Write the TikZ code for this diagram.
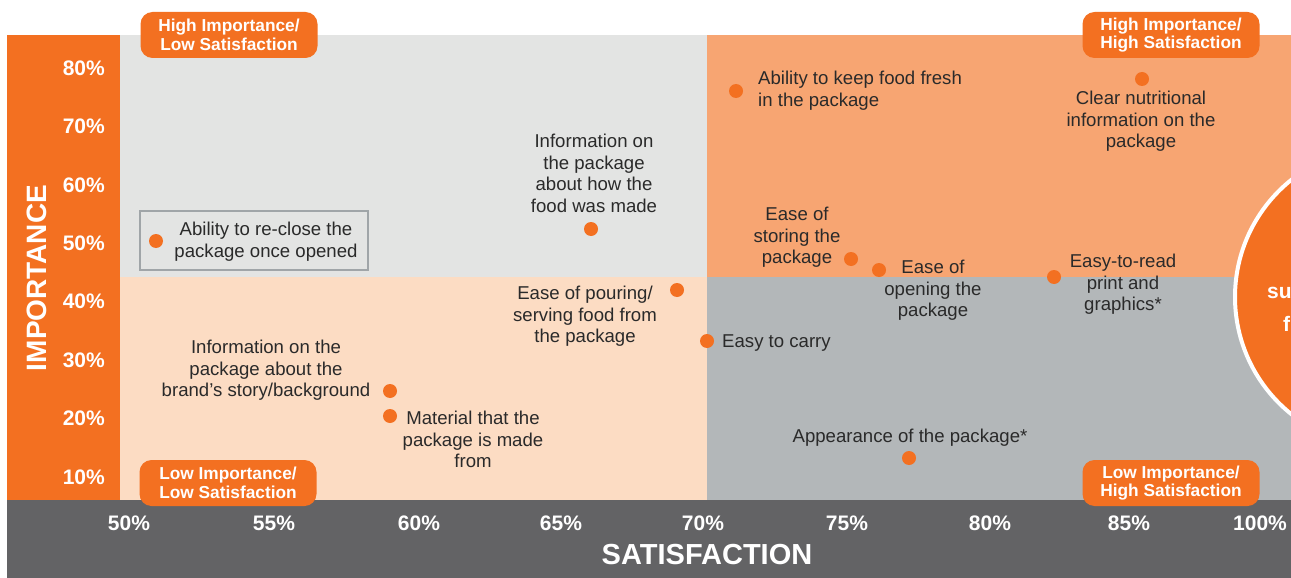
\documentclass[tikz,border=0pt]{standalone}
\usepackage{fontspec}
\setmainfont{Liberation Sans}
\definecolor{brandorange}{HTML}{F37021}
\definecolor{hilightorange}{HTML}{F7A572}
\definecolor{peach}{HTML}{FCDCC3}
\definecolor{lightgrey}{HTML}{E3E4E3}
\definecolor{midgrey}{HTML}{B3B7B9}
\definecolor{darkgrey}{HTML}{636365}
\definecolor{labelgrey}{HTML}{2A2A2A}
\definecolor{boxgrey}{HTML}{A0A5A8}

\begin{document}
\begin{tikzpicture}[x=1pt, y=-1pt,
  datadot/.style={circle, fill=brandorange, inner sep=0pt, minimum size=14pt},
  lbl/.style={text=labelgrey, align=center, inner sep=0pt, font=\fontsize{18.6}{21.5}\selectfont},
  quadtag/.style={fill=brandorange, rounded corners=12pt, text=white, align=center, inner sep=0pt,
    minimum width=177pt, minimum height=46pt, font=\bfseries\fontsize{17.3}{18.5}\selectfont},
  ticklabel/.style={text=white, inner sep=0pt, font=\bfseries\fontsize{21}{21}\selectfont}]
  \clip (0,0) rectangle (1291,578);
  % quadrants and bands
  \fill[lightgrey] (120,35) rectangle (707,277);
  \fill[hilightorange] (707,35) rectangle (1291,277);
  \fill[peach] (120,277) rectangle (707,500);
  \fill[midgrey] (707,277) rectangle (1291,500);
  \fill[brandorange] (7,35) rectangle (120,500);
  \fill[darkgrey] (7,500) rectangle (1291,578);

  % summary circle on the right edge
  \node[circle, fill=brandorange, draw=white, line width=4pt, minimum size=300pt] (summary) at (1385,297) {};
  \node[ticklabel, anchor=west] (summaryA) at (1267,293) {su};
  \node[ticklabel, anchor=west] (summaryB) at (1283,324) {f};

  % axes
  \node[ticklabel, anchor=east] (i80) at (105,68) {80\%};
  \node[ticklabel, anchor=east] (i70) at (105,126) {70\%};
  \node[ticklabel, anchor=east] (i60) at (105,185) {60\%};
  \node[ticklabel, anchor=east] (i50) at (105,243) {50\%};
  \node[ticklabel, anchor=east] (i40) at (105,301) {40\%};
  \node[ticklabel, anchor=east] (i30) at (105,360) {30\%};
  \node[ticklabel, anchor=east] (i20) at (105,418) {20\%};
  \node[ticklabel, anchor=east] (i10) at (105,477) {10\%};
  \node[ticklabel, rotate=90, font=\bfseries\fontsize{28}{28}\selectfont] (importance) at (37,278) {IMPORTANCE};
  \node[ticklabel] (s50) at (129,523) {50\%};
  \node[ticklabel] (s55) at (274,523) {55\%};
  \node[ticklabel] (s60) at (419,523) {60\%};
  \node[ticklabel] (s65) at (561,523) {65\%};
  \node[ticklabel] (s70) at (703,523) {70\%};
  \node[ticklabel] (s75) at (847,523) {75\%};
  \node[ticklabel] (s80) at (990,523) {80\%};
  \node[ticklabel] (s85) at (1129,523) {85\%};
  \node[ticklabel] (s100) at (1260,523) {100\%};
  \node[ticklabel, font=\bfseries\fontsize{29}{29}\selectfont] (satisfaction) at (707,555) {SATISFACTION};

  % quadrant tags
  \node[quadtag] (hilo) at (229,35) {High Importance/\\Low Satisfaction};
  \node[quadtag] (hihi) at (1171,35) {High Importance/\\High Satisfaction};
  \node[quadtag] (lolo) at (228,483) {Low Importance/\\Low Satisfaction};
  \node[quadtag] (lohi) at (1171,483) {Low Importance/\\High Satisfaction};

  % data points
  \node[draw=boxgrey, line width=1.5pt, minimum width=228pt, minimum height=59pt, inner sep=0pt] (recloseBox) at (254,240.5) {};
  \node[datadot] (reclose) at (156,241) {};
  \node[lbl] (recloseText) at (266,241.5) {Ability to re-close the\\package once opened};
  \node[datadot] (fresh) at (736,91) {};
  \node[lbl, anchor=west, align=left] (freshText) at (758,90.5) {Ability to keep food fresh\\in the package};
  \node[datadot] (nutrition) at (1142,79) {};
  \node[lbl] (nutritionText) at (1141,121.5) {Clear nutritional\\information on the\\package};
  \node[datadot] (made) at (591,229) {};
  \node[lbl] (madeText) at (594,173.5) {Information on\\the package\\about how the\\food was made};
  \node[datadot] (storing) at (851,259) {};
  \node[lbl] (storingText) at (797,237.5) {Ease of\\storing the\\package};
  \node[datadot] (opening) at (879,270) {};
  \node[lbl] (openingText) at (933,290.5) {Ease of\\opening the\\package};
  \node[datadot] (easyread) at (1054,277) {};
  \node[lbl] (easyreadText) at (1123,284.5) {Easy-to-read\\print and\\graphics*};
  \node[datadot] (pouring) at (677,290) {};
  \node[lbl] (pouringText) at (585,316.5) {Ease of pouring/\\serving food from\\the package};
  \node[datadot] (carry) at (707,341) {};
  \node[lbl, anchor=west] (carryText) at (722,343) {Easy to carry};
  \node[datadot] (brand) at (390,391) {};
  \node[lbl] (brandText) at (266,370.5) {Information on the\\package about the\\brand’s story/background};
  \node[datadot] (material) at (390,416) {};
  \node[lbl] (materialText) at (473,439.5) {Material that the\\package is made\\from};
  \node[datadot] (appearance) at (909,458) {};
  \node[lbl] (appearanceText) at (910,437.5) {Appearance of the package*};
\end{tikzpicture}
\end{document}
